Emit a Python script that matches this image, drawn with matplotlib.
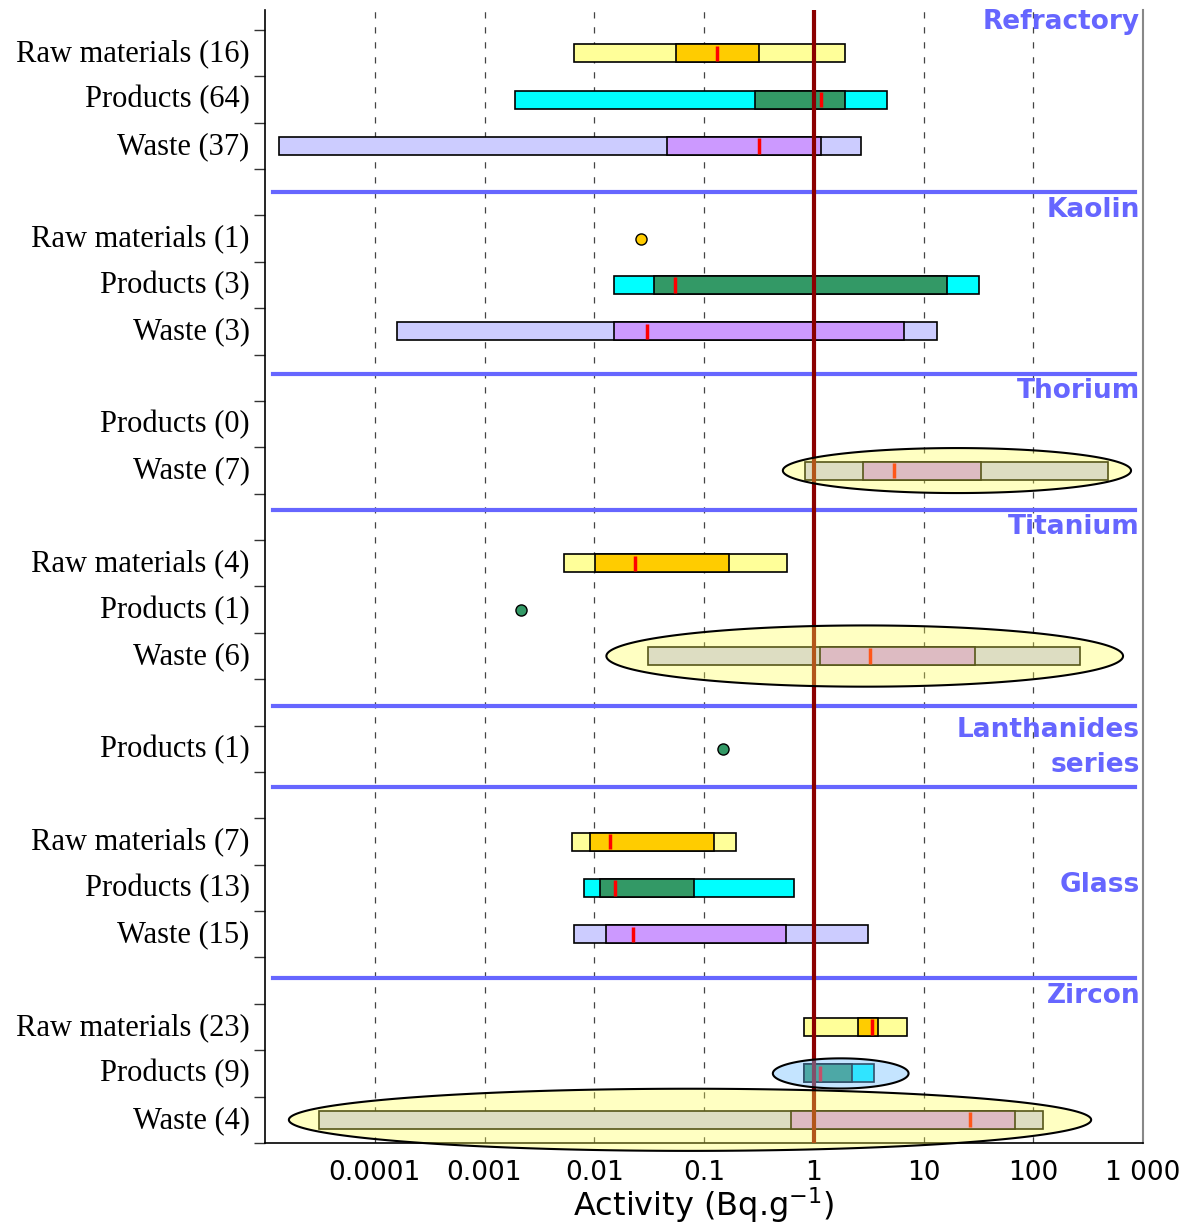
import numpy as np
import matplotlib
matplotlib.use("Agg")
import matplotlib.pyplot as plt
from matplotlib.ticker import NullLocator
from matplotlib.transforms import blended_transform_factory, ScaledTranslation

# groups of rows, top to bottom (one empty slot between groups)
groups = ["Refractory", "Kaolin", "Thorium", "Titanium", "Lanthanides\nseries", "Glass", "Zircon"]
group_rows = [
    ["Raw materials (16)", "Products (64)", "Waste (37)"],
    ["Raw materials (1)", "Products (3)", "Waste (3)"],
    ["Products (0)", "Waste (7)"],
    ["Raw materials (4)", "Products (1)", "Waste (6)"],
    ["Products (1)"],
    ["Raw materials (7)", "Products (13)", "Waste (15)"],
    ["Raw materials (23)", "Products (9)", "Waste (4)"],
]

nan = np.nan
# activity statistics per row (Bq/g): min, lower, median, upper, max
act_min = [0.0066, 0.00189, 1.34e-5, nan, 0.0152, 1.58e-4, nan, 0.837, 0.0053, nan,
           0.031, nan, 0.0063, 0.0081, 0.0066, 0.816, 0.816, 3.1e-5]
act_low = [0.056, 0.289, 0.0458, nan, 0.0351, 0.0152, nan, 2.82, 0.0102, nan,
           1.14, nan, 0.0092, 0.0113, 0.0129, 2.55, 0.816, 0.618]
act_med = [0.131, 1.16, 0.314, 0.0267, 0.0545, 0.0303, nan, 5.38, 0.0236, 0.00217,
           3.27, 0.149, 0.014, 0.0155, 0.0226, 3.42, 1.14, 26.6]
act_high = [0.314, 1.91, 1.16, nan, 16.5, 6.58, nan, 33.5, 0.169, nan,
            29.6, nan, 0.123, 0.081, 0.556, 3.87, 2.25, 68.4]
act_max = [1.91, 4.61, 2.67, nan, 32.3, 13.4, nan, 479, 0.569, nan,
           267, nan, 0.195, 0.658, 3.1, 7.11, 3.53, 122]

# highlighted rows (ellipses)
hl_rows = [7, 10, 16, 17]
hl_lo = [0.523, 0.0129, 0.424, 1.65e-5]
hl_hi = [778, 658, 7.31, 337]
hl_h = [0.97, 1.32, 0.65, 1.34]
hl_colors = [(1, 1, 0.3, 0.34), (1, 1, 0.3, 0.34), (0.45, 0.75, 1, 0.42), (1, 1, 0.3, 0.34)]

xticks = [1e-4, 1e-3, 1e-2, 1e-1, 1, 10, 100, 1000]
xtick_labels = ["0.0001", "0.001", "0.01", "0.1", "1", "10", "100", "1 000"]

colors = {
    "Raw": ("#FFFF99", "#FFCC00"),
    "Products": ("#00FFFF", "#339966"),
    "Waste": ("#CCCCFF", "#CC99FF"),
}

# separator lines and group title positions (slot units)
sep_y = [3.49, 7.42, 10.35, 14.58, 16.32, 20.44]
title_y = [-0.17, 3.88, 7.78, 10.72, 15.48, 18.44, 20.83]

# row positions
labels, ypos = [], []
slot = 0
for rows in group_rows:
    for lab in rows:
        labels.append(lab)
        ypos.append(slot + 0.5)
        slot += 1
    slot += 1
n_slots = slot - 1

fig = plt.figure(figsize=(12.01, 12.28), dpi=100)
ax = fig.add_axes([265 / 1201, 1 - 1143 / 1228, 878 / 1201, 1133 / 1228])
ax.set_xscale("log")
ax.set_xlim(1e-5, 1e3)
ax.set_ylim(n_slots, -0.431)

bar_h = 0.39
for i, (lab, y) in enumerate(zip(labels, ypos)):
    kind = lab.split()[0]
    light, dark = colors[kind]
    if not np.isnan(act_min[i]):
        ax.barh(y, act_max[i] - act_min[i], left=act_min[i], height=bar_h,
                color=light, edgecolor="black", linewidth=1.2, zorder=2)
        ax.barh(y, act_high[i] - act_low[i], left=act_low[i], height=bar_h,
                color=dark, edgecolor="black", linewidth=1.2, zorder=2.1)
        ax.vlines(act_med[i], y - bar_h / 2 + 0.03, y + bar_h / 2 - 0.03,
                  color="red", linewidth=2.5, zorder=3)
    elif not np.isnan(act_med[i]):
        ax.plot(act_med[i], y, "o", color=dark, markeredgecolor="black",
                markeredgewidth=1.0, markersize=8, zorder=3)

for r, lo, hi, h, c in zip(hl_rows, hl_lo, hl_hi, hl_h, hl_colors):
    t = np.linspace(0, 2 * np.pi, 400)
    cx = (np.log10(lo) + np.log10(hi)) / 2
    a = (np.log10(hi) - np.log10(lo)) / 2
    ax.fill(10 ** (cx + a * np.cos(t)), ypos[r] + h / 2 * np.sin(t),
            facecolor=c, edgecolor="black", linewidth=1.5, zorder=5, clip_on=False)

ax.axvline(1, color="#8B0000", linewidth=3, zorder=4)
for y in sep_y:
    ax.axhline(y, xmin=0.009, xmax=0.991, color="#6666FF", linewidth=3, zorder=3.5)

trans = blended_transform_factory(ax.transAxes, ax.transData)
for g, y in zip(groups, title_y):
    ax.text(0.9966, y, g, transform=trans, ha="right", va="center", fontsize=19,
            fontweight="bold", color="#6666FF", linespacing=1.45, zorder=6)

ax.xaxis.grid(True, which="major", linestyle=(0, (5, 7)), color="#444444", linewidth=0.9)
ax.set_axisbelow(True)
ax.set_xticks(xticks)
ax.set_xticklabels(xtick_labels)
ax.xaxis.set_minor_locator(NullLocator())
ax.tick_params(axis="x", length=0, pad=12, labelsize=19)

ax.set_yticks(ypos)
ax.set_yticklabels(labels, family=["Liberation Serif", "DejaVu Serif"], fontsize=22)
ax.set_yticks(np.arange(0, n_slots + 1), minor=True)
ax.tick_params(axis="y", which="major", length=0, pad=11)
ax.tick_params(axis="y", which="minor", length=8, width=1, color="#333333")
shift_up = ScaledTranslation(0, 3 / 100, fig.dpi_scale_trans)
for tl in ax.get_yticklabels():
    tl.set_transform(tl.get_transform() + shift_up)

ax.spines["top"].set_visible(False)
ax.spines["right"].set_color("#888888")
ax.spines["right"].set_linewidth(1.5)
ax.spines["left"].set_linewidth(1.2)
ax.spines["bottom"].set_linewidth(1.2)

ax.set_xlabel("Activity (Bq.g$^{-1}$)", fontsize=23, labelpad=0)

fig.savefig("out.png", dpi=100)
